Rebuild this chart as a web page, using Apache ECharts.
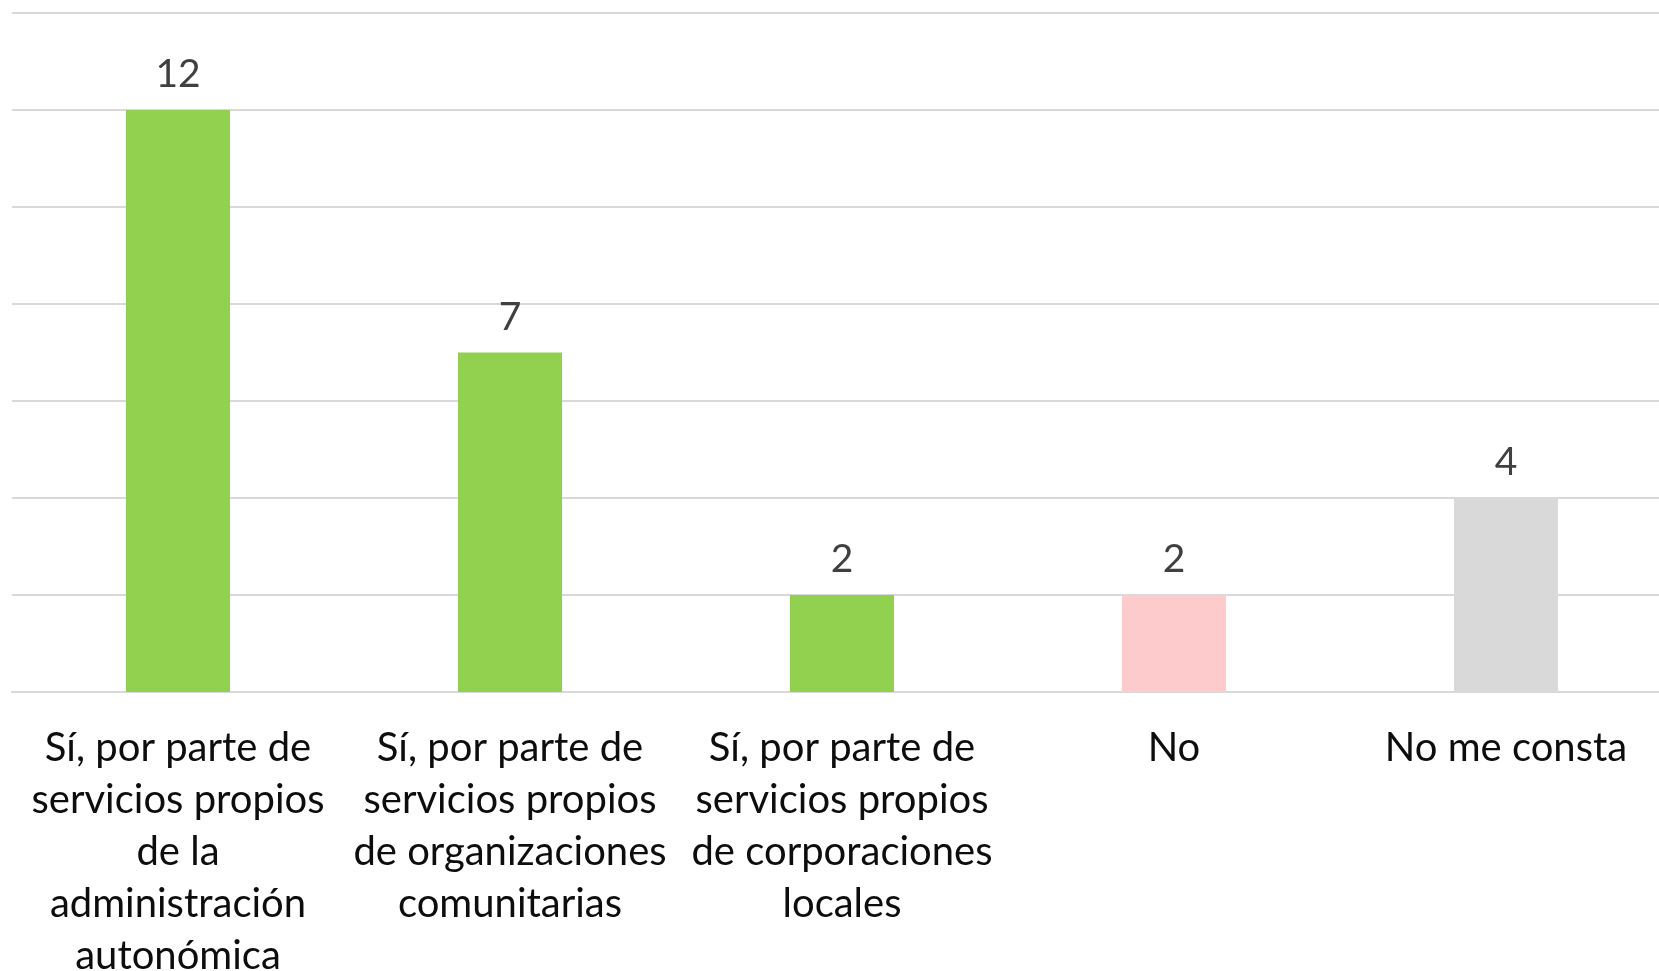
<!DOCTYPE html>
<html>
<head>
<meta charset="utf-8">
<script src="https://cdn.jsdelivr.net/npm/echarts@6/dist/echarts.min.js"></script>
<style>
  html, body { margin: 0; padding: 0; background: #fff; }
  #chart { width: 1659px; height: 971px; }
</style>
</head>
<body>
<div id="chart"></div>
<script>
// datos
var categorias = [
  'Sí, por parte de\nservicios propios\nde la\nadministración\nautonómica',
  'Sí, por parte de\nservicios propios\nde organizaciones\ncomunitarias',
  'Sí, por parte de\nservicios propios\nde corporaciones\nlocales',
  'No',
  'No me consta'
];
var valores = [12, 7, 2, 2, 4];
var colores = ['#92D050', '#92D050', '#92D050', '#FDCBCB', '#D9D9D9'];

var myChart = echarts.init(document.getElementById('chart'));

var option = {
  animation: false,
  grid: {
    left: 12,
    top: 13,
    width: 1660,
    height: 679,
    containLabel: false,
    outerBoundsMode: 'none'
  },
  xAxis: {
    type: 'category',
    data: categorias,
    axisLine: { lineStyle: { color: '#d9d9d9', width: 2 } },
    axisTick: { show: false },
    axisLabel: {
      interval: 0,
      margin: 30,
      color: '#0d0d0d',
      fontFamily: 'Lato',
      fontSize: 40,
      lineHeight: 52,
      align: 'center'
    }
  },
  yAxis: {
    type: 'value',
    min: 0,
    max: 14,
    interval: 2,
    axisLabel: { show: false },
    axisLine: { show: false },
    axisTick: { show: false },
    splitLine: { lineStyle: { color: '#d9d9d9', width: 2 } }
  },
  series: [
    {
      type: 'bar',
      barWidth: 104,
      data: valores.map(function (v, i) {
        return { value: v, itemStyle: { color: colores[i] } };
      }),
      label: {
        show: true,
        position: 'top',
        distance: 16,
        color: '#404040',
        fontFamily: 'Lato',
        fontSize: 39
      }
    }
  ]
};
myChart.setOption(option);
</script>
</body>
</html>
